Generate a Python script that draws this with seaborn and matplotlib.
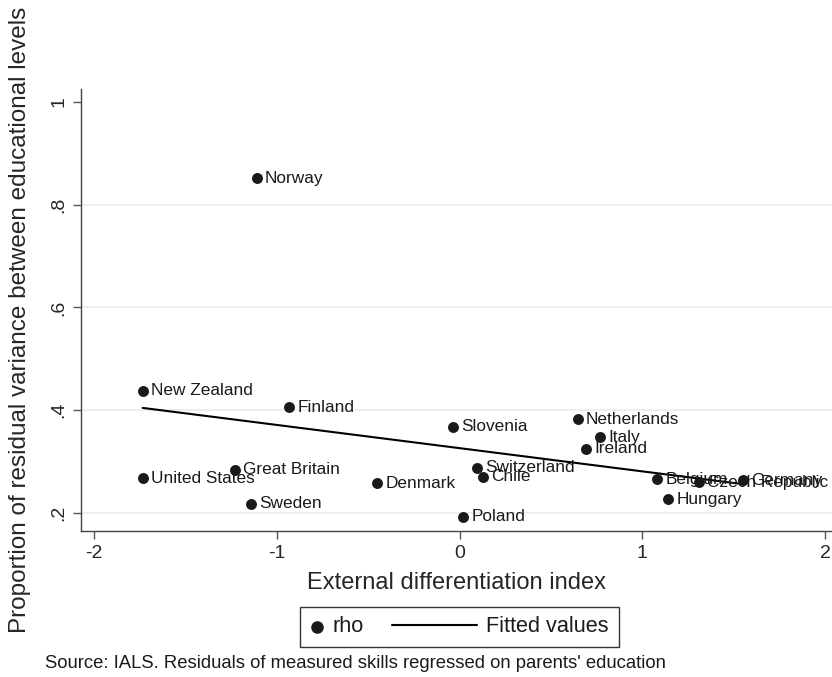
import numpy as np
import pandas as pd
import seaborn as sns
import matplotlib.pyplot as plt
from matplotlib.lines import Line2D
from matplotlib.legend_handler import HandlerLine2D

countries = ["Norway", "New Zealand", "Finland", "Slovenia", "Netherlands", "Italy",
             "Ireland", "Switzerland", "Chile", "Great Britain", "United States",
             "Denmark", "Sweden", "Poland", "Belgium", "Czech Republic", "Germany",
             "Hungary"]
ext_diff = [-1.110, -1.734, -0.933, -0.037, 0.647, 0.769, 0.690, 0.097, 0.127,
            -1.228, -1.734, -0.450, -1.143, 0.021, 1.081, 1.311, 1.551, 1.141]
rho = [0.851, 0.438, 0.406, 0.368, 0.382, 0.347, 0.325, 0.288, 0.271,
       0.284, 0.268, 0.258, 0.218, 0.193, 0.266, 0.260, 0.264, 0.227]

x_ticks = [-2, -1, 0, 1, 2]
x_tick_labels = ["-2", "-1", "0", "1", "2"]
y_ticks = [0.2, 0.4, 0.6, 0.8, 1.0]
y_tick_labels = [".2", ".4", ".6", ".8", "1"]

_df = pd.DataFrame({"country": countries, "x": ext_diff, "rho": rho})

sns.set_style("white")
plt.rcParams["font.family"] = ["Liberation Sans", "DejaVu Sans"]
plt.rcParams["text.color"] = "#1a1a1a"


# line handle that reaches back into the column gap, like stata's key
class LongLine(HandlerLine2D):
    def get_xdata(self, legend, xdescent, ydescent, width, height, fontsize):
        xs = [-xdescent - 3.3 * fontsize, -xdescent + width]
        return xs, [xs[1]]


fig = plt.figure(figsize=(8.32, 6.77), dpi=100)
ax = fig.add_axes([81 / 832, 1 - 531 / 677, 751 / 832, 442 / 677])

sns.regplot(data=_df, x="x", y="rho", scatter=False, ci=None, ax=ax,
            label="Fitted values", line_kws=dict(color="black", lw=1.5))
sns.scatterplot(data=_df, x="x", y="rho", ax=ax, color="#1a1a1a", s=62,
                linewidth=0, label="rho", zorder=3)

for _, r in _df.iterrows():
    ax.annotate(r["country"], (r["x"], r["rho"]), xytext=(6, 0),
                textcoords="offset points", va="center", ha="left",
                fontsize=12.4, color="#1a1a1a")

ax.set_xlim(-2.071, 2.038)
ax.set_ylim(0.165, 1.025)
ax.set_xticks(x_ticks)
ax.set_xticklabels(x_tick_labels, fontsize=14)
ax.set_yticks(y_ticks)
ax.set_yticklabels(y_tick_labels, fontsize=14, rotation=90, va="center")
ax.tick_params(axis="both", direction="out", length=6, width=1, color="#555555",
               left=True, bottom=True, pad=4)

ax.grid(axis="y", color="#ebebeb", lw=1.2)
ax.yaxis.get_major_ticks()[-1].gridline.set_visible(False)
sns.despine(ax=ax)
for s in ["left", "bottom"]:
    ax.spines[s].set_color("#444444")
    ax.spines[s].set_linewidth(1)

ax.set_xlabel("External differentiation index", fontsize=17, labelpad=7)
ax.set_ylabel("Proportion of residual variance between educational levels", fontsize=17.5)
ax.yaxis.set_label_coords(-0.066, 0.478)

_handles, _labels = ax.get_legend_handles_labels()
if ax.get_legend() is not None:
    ax.get_legend().remove()
order = [_labels.index("rho"), _labels.index("Fitted values")]
_leg = fig.legend([_handles[i] for i in order], [_labels[i] for i in order],
                  loc="center", bbox_to_anchor=(459.5 / 832, 1 - 627 / 677),
                  ncol=2, fontsize=15.6, frameon=True, fancybox=False,
                  edgecolor="#333333", framealpha=1, handlelength=0.6,
                  handletextpad=0.45, columnspacing=4.6, borderpad=0.45,
                  markerscale=1.15, scatterpoints=1,
                  handler_map={Line2D: LongLine()})
_leg.get_frame().set_linewidth(1)

fig.text(45 / 832, 1 - 664 / 677,
         "Source: IALS. Residuals of measured skills regressed on parents' education",
         fontsize=13.3, va="center", ha="left", color="#1a1a1a")

fig.savefig("out.png", dpi=100)
plt.close()
